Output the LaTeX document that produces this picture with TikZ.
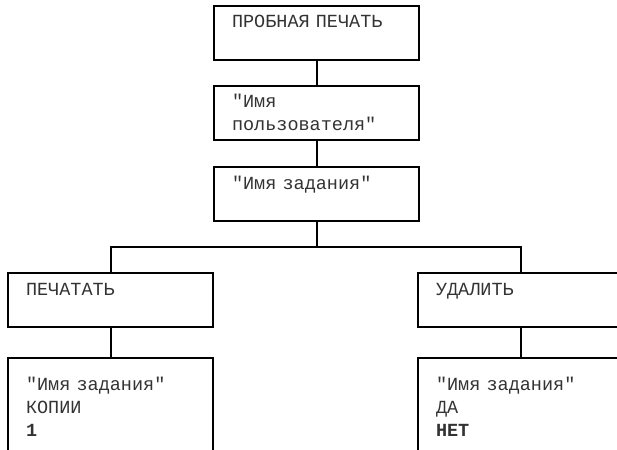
\documentclass[tikz,border=0pt]{standalone}
\usepackage{fontspec}
\setmonofont{Liberation Mono}
\usetikzlibrary{positioning}
\tikzset{
  rect1/.style = {
    shape = rectangle,
    draw = black,
    line width = 2pt,
    outer sep = 0pt,
    text = black!80,
    text width = 169pt,
    inner xsep = 18pt,
    inner ysep = 0pt,
    align = left,
    text height = 22pt,
    text depth = 32pt,
    font = \ttfamily\fontsize{18.5pt}{23pt}\selectfont,
  }
}
\tikzset{
  rect2/.style = {
    rect1,
    text height = 32pt,
    text depth = 100pt,
  }
}
\tikzset{
  line1/.style = {
    draw = black, line width = 2pt,
  }
}
\begin{document}
\begin{tikzpicture}[x = 1pt, y = 1pt]
        \useasboundingbox (0, 0) rectangle (617, -449);
        \clip (0, 0) rectangle (617, -449);
        \node[rect1, anchor = north west](1) at (214, -6){ПРОБНАЯ ПЕЧАТЬ};
        \node[rect1, below = 26pt of 1](2){"Имя\\пользователя"};
        \node[rect1, below = 27pt of 2](3){"Имя задания"};
        \node[rect1, anchor = north west](4) at (8, -273){ПЕЧАТАТЬ};
        \node[rect1, right = 205pt of 4](6){УДАЛИТЬ};
        \node[rect2, below = 31pt of 4](5){"Имя задания"\\КОПИИ\\\textbf{1}};
        \node[rect2, below = 31pt of 6](7){"Имя задания"\\ДА\\\textbf{НЕТ}};
        \coordinate[below = 26pt of 3](8);
        \draw[line1](1) -- (2);
        \draw[line1](2) -- (3);
        \draw[line1](3) -- (8);
        \draw[line1](8) -| (4);
        \draw[line1](8) -| (6);
        \draw[line1](4) -- (5);
        \draw[line1](6) -- (7);
    \end{tikzpicture}
\end{document}
